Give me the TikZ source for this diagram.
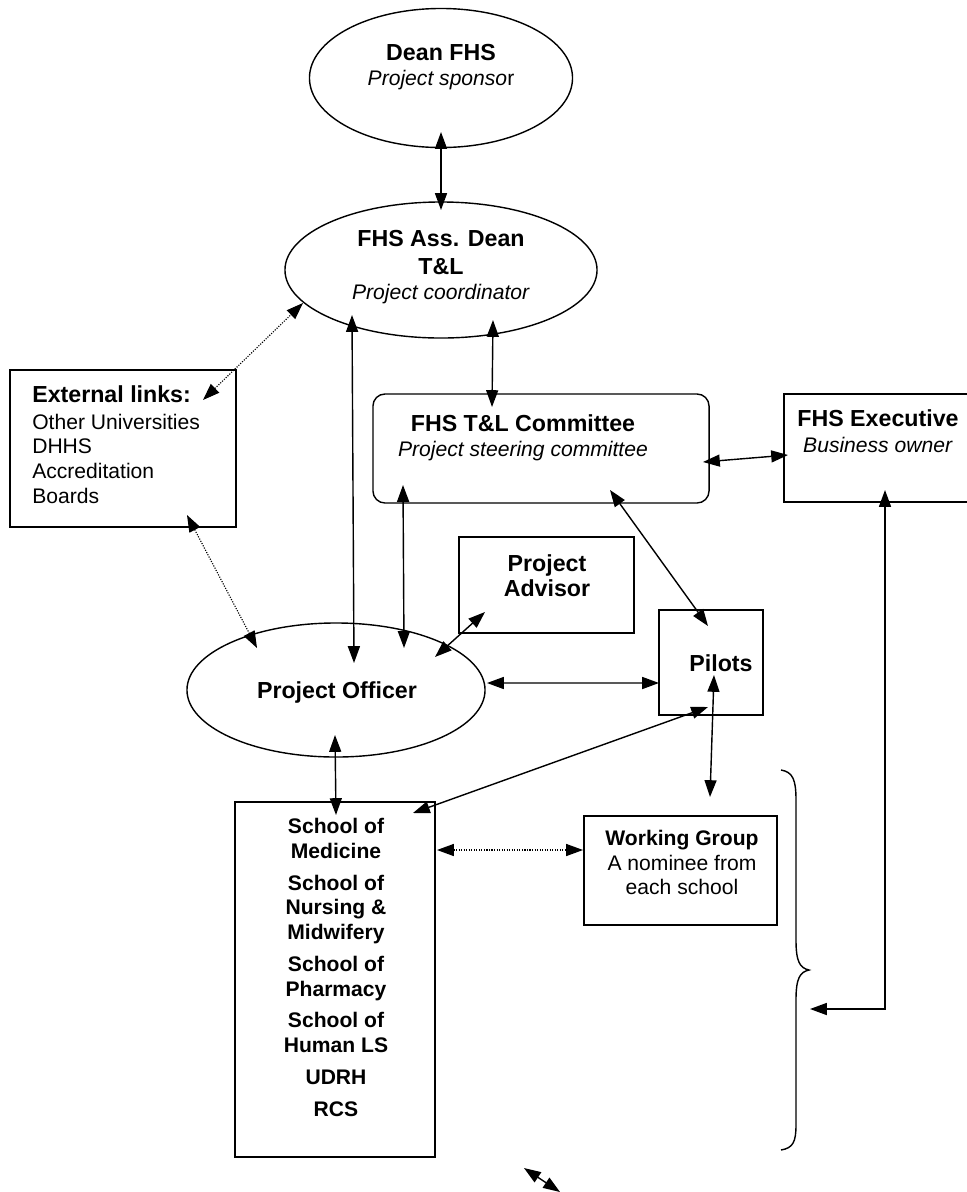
\documentclass[tikz,border=0pt]{standalone}
\usepackage{fontspec}
\setmainfont{Liberation Sans}
\usetikzlibrary{arrows.meta, shapes.geometric}
\newcommand{\boxtitle}{\fontsize{16.5}{17.7}\selectfont\bfseries}

\begin{document}
\begin{tikzpicture}[x=0.025cm, y=-0.025cm,
    oval/.style={draw, ellipse, line width=1pt, inner sep=0pt}, % ovals for people
    box/.style={draw, rectangle, line width=1pt, inner sep=0pt},
    txt/.style={align=center, inner sep=0pt, font=\fontsize{15}{17.5}\selectfont},
    link/.style={{Triangle[length=4.2mm,width=3mm]}-{Triangle[length=4.2mm,width=3mm]}, line width=1pt},
    dlink/.style={link, line width=0.8pt, dash pattern=on 0.8pt off 1pt}
    ]
\fill[white] (0,0) rectangle (967,1192);
\useasboundingbox (0,0) rectangle (967,1192);
\clip (0,0) rectangle (967,1192);

\node[oval, minimum width=6.575cm, minimum height=3.475cm] (dean) at (441,78) {};
\node[txt] (dean-t) at (441,67) {{\boxtitle Dean FHS}\\\textit{Project sponso}r};

\node[oval, minimum width=7.8cm, minimum height=3.4cm] (ad) at (441,270) {};
\node[txt] (ad-t) at (441,267) {{\boxtitle FHS Ass. Dean}\\[2.8pt]{\boxtitle T\&L}\\\textit{Project coordinator}};

\node[box, minimum width=5.65cm, minimum height=3.925cm] (ext) at (123,448.5) {};
\node[txt, align=left, anchor=west] (ext-t) at (32,444.5) {{\boxtitle External links:}\\[1.5pt]Other Universities\\DHHS\\Accreditation\\Boards};

\node[box, rounded corners=0.3cm, minimum width=8.4cm, minimum height=2.725cm] (comm) at (541,448.5) {};
\node[txt] (comm-t) at (523,437.5) {{\boxtitle FHS T\&L Committee}\\\textit{Project steering committee}};

\node[box, minimum width=4.775cm, minimum height=2.7cm] (exec) at (879.5,448) {};
\node[txt] (exec-t) at (878,431) {{\boxtitle FHS Executive}\\[1pt]\textit{Business owner}};

\node[box, minimum width=4.375cm, minimum height=2.4cm] (adv) at (546.5,585) {};
\node[txt, font=\boxtitle] (adv-t) at (547,575.5) {Project\\Advisor};

\node[box, minimum width=2.6cm, minimum height=2.625cm] (pil) at (711,662.5) {};
\node[txt, font=\boxtitle] (pil-t) at (721,663) {Pilots};

\node[oval, minimum width=7.45cm, minimum height=3.35cm] (po) at (336,690) {};
\node[txt, font=\boxtitle] (po-t) at (337,692) {Project Officer};

\node[box, minimum width=5cm, minimum height=8.875cm] (sch) at (335,979.5) {};
\node[txt, font=\fontsize{15}{17.5}\selectfont\bfseries] (sch-t) at (336,967.5)
    {School of\\Medicine\\[5.2pt]School of\\Nursing \&\\Midwifery\\[5.2pt]School of\\Pharmacy\\[5.2pt]School of\\Human LS\\[5.2pt]UDRH\\[5.2pt]RCS};

\node[box, minimum width=4.825cm, minimum height=2.725cm] (wg) at (680.5,870.5) {};
\node[txt] (wg-t) at (682,862.5) {\textbf{Working Group}\\A nominee from\\each school};

% links
\draw[link] ([shift={(0,54)}]dean.center) -- ([shift={(0,-60)}]ad.center);
\draw[link] ([shift={(52,50)}]ad.center) -- ([shift={(-49,-41.5)}]comm.center);
\draw[dlink] ([shift={(80,-48.5)}]ext.center) -- ([shift={(-138,33)}]ad.center);
\draw[dlink] ([shift={(64,66.5)}]ext.center) -- ([shift={(-79,-42)}]po.center);
\draw[link] ([shift={(-89,45)}]ad.center) -- ([shift={(18,-27)}]po.center);
\draw[link] ([shift={(-138,36.5)}]comm.center) -- ([shift={(68,-42)}]po.center);
\draw[link] ([shift={(-61.5,27)}]adv.center) -- ([shift={(99,-33)}]po.center);
\draw[link] ([shift={(69,41.5)}]comm.center) -- ([shift={(-3,-36.5)}]pil.center);
\draw[link] ([shift={(162,13.5)}]comm.center) -- ([shift={(-91.5,7)}]exec.center);
\draw[link] ([shift={(151,-7)}]po.center) -- ([shift={(-52,20.5)}]pil.center);
\draw[link] ([shift={(-1,45)}]po.center) -- ([shift={(1,-164.5)}]sch.center);
\draw[link] ([shift={(78,-166.5)}]sch.center) -- ([shift={(-3,44.5)}]pil.center);
\draw[link] ([shift={(3,12.5)}]pil.center) -- ([shift={(29.5,-73.5)}]wg.center);
\draw[dlink] ([shift={(102,-129.5)}]sch.center) -- ([shift={(-97.5,-20.5)}]wg.center);

% brace and the executive's line
\draw[line width=1pt] (781,770) .. controls (793,772) and (796,780) .. (796,800) -- (796,940)
    .. controls (796,962) and (800,968) .. (809,970) .. controls (800,972) and (796,978) .. (796,1000)
    -- (796,1125) .. controls (796,1142) and (793,1148) .. (781,1150);
\coordinate (brc) at (810,1009);
\draw[link] (brc) -| ([shift={(5.5,42)}]exec.center);

\coordinate (s1) at (524,1168);
\coordinate (s2) at (560,1192);
\draw[link] (s1) -- (s2);
\end{tikzpicture}
\end{document}
